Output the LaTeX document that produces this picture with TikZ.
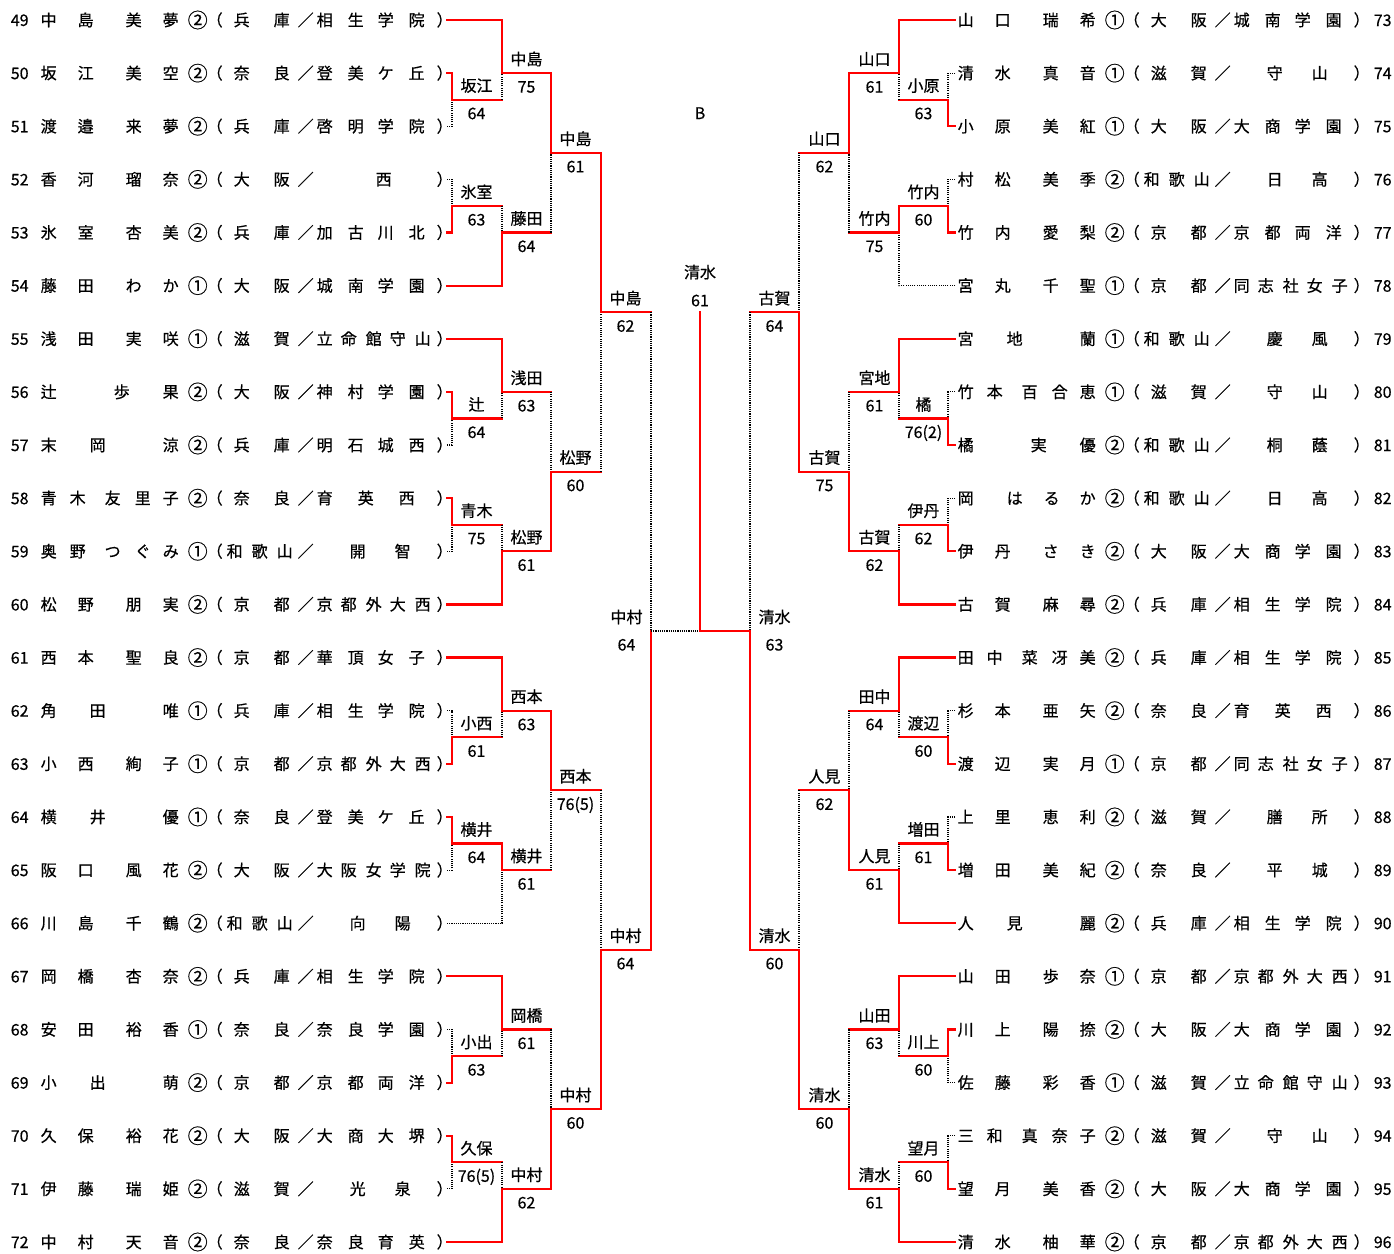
\documentclass[tikz,border=0pt]{standalone}
\usepackage{fontspec}
\setmainfont{Noto Sans CJK JP}[FakeBold=0.5]
\newcommand\putc[2]{\rlap{\hspace*{#1pt}\makebox[0pt]{#2}}}
\newcommand\circd[1]{\raisebox{-1.6pt}{\fontsize{20}{20}\selectfont #1}}
% name patterns
\newcommand\nmA[4]{\putc{48}{#1}\putc{85}{#2}\putc{133}{#3}\putc{170}{#4}}
\newcommand\nmB[5]{\putc{48}{#1}\putc{77}{#2}\putc{112}{#3}\putc{142}{#4}\putc{170}{#5}}
\newcommand\nmC[3]{\putc{48}{#1}\putc{97}{#2}\putc{170}{#3}}
\newcommand\nmD[3]{\putc{48}{#1}\putc{121}{#2}\putc{170}{#3}}
\newcommand\nmE[4]{\putc{48}{#1}\putc{97}{#2}\putc{134}{#3}\putc{170}{#4}}
% prefecture patterns
\newcommand\pfA[2]{\putc{241}{#1}\putc{281}{#2}}
\newcommand\pfB[3]{\putc{234}{#1}\putc{259}{#2}\putc{284}{#3}}
% school patterns
\newcommand\scA[4]{\putc{324}{#1}\putc{355}{#2}\putc{385}{#3}\putc{416}{#4}}
\newcommand\scB[5]{\putc{324}{#1}\putc{348}{#2}\putc{373}{#3}\putc{397}{#4}\putc{422}{#5}}
\newcommand\scC[3]{\putc{324}{#1}\putc{365}{#2}\putc{406}{#3}}
\newcommand\scD[2]{\putc{357}{#1}\putc{402}{#2}}
\newcommand\scE[1]{\putc{383}{#1}}
\newcommand\rowy[1]{20+53.13*(#1)}
\tikzset{
  row/.style={anchor=base west, inner sep=0pt, font=\fontsize{16}{19}\selectfont},
  lbl/.style={anchor=base, inner sep=0pt, font=\fontsize{16}{19}\selectfont},
  win/.style={draw=red, line width=2.2pt, line cap=rect},
  lose/.style={draw=black, line width=1.1pt, dash pattern=on 1.1pt off 1.1pt},
}
\newcommand\Lrow[6]{\node[row] (P#2) at (0,{\rowy{#1}+6}) {\putc{19}{#2}#3\putc{197}{\circd{#4}}\putc{214}{（}#5\putc{305}{／}#6\putc{444}{）}};
  \coordinate (a#2) at (447,{\rowy{#1}});}
\newcommand\Rrow[6]{\node[row] (P#2) at (917,{\rowy{#1}+6}) {#3\putc{197}{\circd{#4}}\putc{214}{（}#5\putc{305}{／}#6\putc{444}{）}\putc{465}{#2}};
  \coordinate (a#2) at (955,{\rowy{#1}});}
% winner #1, loser #2 (player), match #3
\newcommand\boutP[3]{\draw[lose] (#2) -| (#3); \draw[win] (#1) -| (#3);}
% winner #1, loser #2 (match), match #3
\newcommand\boutM[3]{\draw[win] (#2) -- (#2 -| #3); \draw[lose] (#2 -| #3) -- (#3); \draw[win] (#1) -| (#3);}
\newcommand\lab[4]{\node[lbl] (w#1) at ([xshift=#2pt,yshift=8pt]#1) {#3};
  \node[lbl] (s#1) at ([xshift=#2pt,yshift=-19.5pt]#1) {#4};}
\begin{document}
\begin{tikzpicture}[x=1pt,y=-1pt]
\fill[white] (0,0) rectangle (1394,1253);
\useasboundingbox (0,0) rectangle (1394,1253);
% ---- left entries
\Lrow{0}{49}{\nmA{中}{島}{美}{夢}}{②}{\pfA{兵}{庫}}{\scA{相}{生}{学}{院}}
\Lrow{1}{50}{\nmA{坂}{江}{美}{空}}{②}{\pfA{奈}{良}}{\scA{登}{美}{ケ}{丘}}
\Lrow{2}{51}{\nmA{渡}{邉}{来}{夢}}{②}{\pfA{兵}{庫}}{\scA{啓}{明}{学}{院}}
\Lrow{3}{52}{\nmA{香}{河}{瑠}{奈}}{②}{\pfA{大}{阪}}{\scE{西}}
\Lrow{4}{53}{\nmA{氷}{室}{杏}{美}}{②}{\pfA{兵}{庫}}{\scA{加}{古}{川}{北}}
\Lrow{5}{54}{\nmA{藤}{田}{わ}{か}}{①}{\pfA{大}{阪}}{\scA{城}{南}{学}{園}}
\Lrow{6}{55}{\nmA{浅}{田}{実}{咲}}{①}{\pfA{滋}{賀}}{\scB{立}{命}{館}{守}{山}}
\Lrow{7}{56}{\nmD{辻}{歩}{果}}{②}{\pfA{大}{阪}}{\scA{神}{村}{学}{園}}
\Lrow{8}{57}{\nmC{末}{岡}{涼}}{②}{\pfA{兵}{庫}}{\scA{明}{石}{城}{西}}
\Lrow{9}{58}{\nmB{青}{木}{友}{里}{子}}{②}{\pfA{奈}{良}}{\scC{育}{英}{西}}
\Lrow{10}{59}{\nmB{奥}{野}{つ}{ぐ}{み}}{①}{\pfB{和}{歌}{山}}{\scD{開}{智}}
\Lrow{11}{60}{\nmA{松}{野}{朋}{実}}{②}{\pfA{京}{都}}{\scB{京}{都}{外}{大}{西}}
\Lrow{12}{61}{\nmA{西}{本}{聖}{良}}{②}{\pfA{京}{都}}{\scA{華}{頂}{女}{子}}
\Lrow{13}{62}{\nmC{角}{田}{唯}}{①}{\pfA{兵}{庫}}{\scA{相}{生}{学}{院}}
\Lrow{14}{63}{\nmA{小}{西}{絢}{子}}{①}{\pfA{京}{都}}{\scB{京}{都}{外}{大}{西}}
\Lrow{15}{64}{\nmC{横}{井}{優}}{①}{\pfA{奈}{良}}{\scA{登}{美}{ケ}{丘}}
\Lrow{16}{65}{\nmA{阪}{口}{風}{花}}{②}{\pfA{大}{阪}}{\scB{大}{阪}{女}{学}{院}}
\Lrow{17}{66}{\nmA{川}{島}{千}{鶴}}{②}{\pfB{和}{歌}{山}}{\scD{向}{陽}}
\Lrow{18}{67}{\nmA{岡}{橋}{杏}{奈}}{②}{\pfA{兵}{庫}}{\scA{相}{生}{学}{院}}
\Lrow{19}{68}{\nmA{安}{田}{裕}{香}}{①}{\pfA{奈}{良}}{\scA{奈}{良}{学}{園}}
\Lrow{20}{69}{\nmC{小}{出}{萌}}{②}{\pfA{京}{都}}{\scA{京}{都}{両}{洋}}
\Lrow{21}{70}{\nmA{久}{保}{裕}{花}}{②}{\pfA{大}{阪}}{\scA{大}{商}{大}{堺}}
\Lrow{22}{71}{\nmA{伊}{藤}{瑞}{姫}}{②}{\pfA{滋}{賀}}{\scD{光}{泉}}
\Lrow{23}{72}{\nmA{中}{村}{天}{音}}{②}{\pfA{奈}{良}}{\scA{奈}{良}{育}{英}}
% ---- right entries
\Rrow{0}{73}{\nmA{山}{口}{瑞}{希}}{①}{\pfA{大}{阪}}{\scA{城}{南}{学}{園}}
\Rrow{1}{74}{\nmA{清}{水}{真}{音}}{①}{\pfA{滋}{賀}}{\scD{守}{山}}
\Rrow{2}{75}{\nmA{小}{原}{美}{紅}}{①}{\pfA{大}{阪}}{\scA{大}{商}{学}{園}}
\Rrow{3}{76}{\nmA{村}{松}{美}{季}}{②}{\pfB{和}{歌}{山}}{\scD{日}{高}}
\Rrow{4}{77}{\nmA{竹}{内}{愛}{梨}}{②}{\pfA{京}{都}}{\scA{京}{都}{両}{洋}}
\Rrow{5}{78}{\nmA{宮}{丸}{千}{聖}}{①}{\pfA{京}{都}}{\scB{同}{志}{社}{女}{子}}
\Rrow{6}{79}{\nmC{宮}{地}{蘭}}{①}{\pfB{和}{歌}{山}}{\scD{慶}{風}}
\Rrow{7}{80}{\nmB{竹}{本}{百}{合}{恵}}{①}{\pfA{滋}{賀}}{\scD{守}{山}}
\Rrow{8}{81}{\nmD{橘}{実}{優}}{②}{\pfB{和}{歌}{山}}{\scD{桐}{蔭}}
\Rrow{9}{82}{\nmE{岡}{は}{る}{か}}{②}{\pfB{和}{歌}{山}}{\scD{日}{高}}
\Rrow{10}{83}{\nmA{伊}{丹}{さ}{き}}{②}{\pfA{大}{阪}}{\scA{大}{商}{学}{園}}
\Rrow{11}{84}{\nmA{古}{賀}{麻}{尋}}{②}{\pfA{兵}{庫}}{\scA{相}{生}{学}{院}}
\Rrow{12}{85}{\nmB{田}{中}{菜}{冴}{美}}{②}{\pfA{兵}{庫}}{\scA{相}{生}{学}{院}}
\Rrow{13}{86}{\nmA{杉}{本}{亜}{矢}}{②}{\pfA{奈}{良}}{\scC{育}{英}{西}}
\Rrow{14}{87}{\nmA{渡}{辺}{実}{月}}{①}{\pfA{京}{都}}{\scB{同}{志}{社}{女}{子}}
\Rrow{15}{88}{\nmA{上}{里}{恵}{利}}{②}{\pfA{滋}{賀}}{\scD{膳}{所}}
\Rrow{16}{89}{\nmA{増}{田}{美}{紀}}{②}{\pfA{奈}{良}}{\scD{平}{城}}
\Rrow{17}{90}{\nmC{人}{見}{麗}}{②}{\pfA{兵}{庫}}{\scA{相}{生}{学}{院}}
\Rrow{18}{91}{\nmA{山}{田}{歩}{奈}}{①}{\pfA{京}{都}}{\scB{京}{都}{外}{大}{西}}
\Rrow{19}{92}{\nmA{川}{上}{陽}{捺}}{②}{\pfA{大}{阪}}{\scA{大}{商}{学}{園}}
\Rrow{20}{93}{\nmA{佐}{藤}{彩}{香}}{①}{\pfA{滋}{賀}}{\scB{立}{命}{館}{守}{山}}
\Rrow{21}{94}{\nmB{三}{和}{真}{奈}{子}}{②}{\pfA{滋}{賀}}{\scD{守}{山}}
\Rrow{22}{95}{\nmA{望}{月}{美}{香}}{②}{\pfA{大}{阪}}{\scA{大}{商}{学}{園}}
\Rrow{23}{96}{\nmA{清}{水}{柚}{華}}{②}{\pfA{京}{都}}{\scB{京}{都}{外}{大}{西}}
% ---- match points, left
\coordinate (m50) at (452,{\rowy{1.5}});  \coordinate (m49) at (502,{\rowy{1}});
\coordinate (m53) at (452,{\rowy{3.5}});  \coordinate (m54) at (502,{\rowy{4}});
\coordinate (mA)  at (551,{\rowy{2.5}});
\coordinate (m56) at (452,{\rowy{7.5}});  \coordinate (m55) at (502,{\rowy{7}});
\coordinate (m58) at (452,{\rowy{9.5}});  \coordinate (m60) at (502,{\rowy{10}});
\coordinate (mB)  at (551,{\rowy{8.5}});
\coordinate (mAB) at (601,{\rowy{5.5}});
\coordinate (m63) at (452,{\rowy{13.5}}); \coordinate (m61) at (502,{\rowy{13}});
\coordinate (m64) at (452,{\rowy{15.5}}); \coordinate (m66) at (502,{\rowy{16}});
\coordinate (mC)  at (551,{\rowy{14.5}});
\coordinate (m69) at (452,{\rowy{19.5}}); \coordinate (m67) at (502,{\rowy{19}});
\coordinate (m70) at (452,{\rowy{21.5}}); \coordinate (m72) at (502,{\rowy{22}});
\coordinate (mD)  at (551,{\rowy{20.5}});
\coordinate (mCD) at (601,{\rowy{17.5}});
\coordinate (sfL) at (651,{\rowy{11.5}});
% ---- match points, right
\coordinate (m75) at (948,{\rowy{1.5}});  \coordinate (m73) at (899,{\rowy{1}});
\coordinate (m77) at (948,{\rowy{3.5}});  \coordinate (m78) at (899,{\rowy{4}});
\coordinate (mE)  at (849,{\rowy{2.5}});
\coordinate (m81) at (948,{\rowy{7.5}});  \coordinate (m79) at (899,{\rowy{7}});
\coordinate (m83) at (948,{\rowy{9.5}});  \coordinate (m84) at (899,{\rowy{10}});
\coordinate (mF)  at (849,{\rowy{8.5}});
\coordinate (mEF) at (799,{\rowy{5.5}});
\coordinate (m87) at (948,{\rowy{13.5}}); \coordinate (m85) at (899,{\rowy{13}});
\coordinate (m89) at (948,{\rowy{15.5}}); \coordinate (m90) at (899,{\rowy{16}});
\coordinate (mG)  at (849,{\rowy{14.5}});
\coordinate (m92) at (948,{\rowy{19.5}}); \coordinate (m91) at (899,{\rowy{19}});
\coordinate (m95) at (948,{\rowy{21.5}}); \coordinate (m96) at (899,{\rowy{22}});
\coordinate (mH)  at (849,{\rowy{20.5}});
\coordinate (mGH) at (799,{\rowy{17.5}});
\coordinate (sfR) at (750,{\rowy{11.5}});
\coordinate (fin) at (700,{\rowy{5.5}});
% ---- bouts, left
\boutP{a50}{a51}{m50} \boutM{a49}{m50}{m49}
\boutP{a53}{a52}{m53} \boutM{a54}{m53}{m54}
\boutM{m49}{m54}{mA}
\boutP{a56}{a57}{m56} \boutM{a55}{m56}{m55}
\boutP{a58}{a59}{m58} \boutM{a60}{m58}{m60}
\boutM{m60}{m55}{mB}
\boutM{mA}{mB}{mAB}
\boutP{a63}{a62}{m63} \boutM{a61}{m63}{m61}
\boutP{a64}{a65}{m64} \boutP{m64}{a66}{m66}
\boutM{m61}{m66}{mC}
\boutP{a69}{a68}{m69} \boutM{a67}{m69}{m67}
\boutP{a70}{a71}{m70} \boutM{a72}{m70}{m72}
\boutM{m72}{m67}{mD}
\boutM{mD}{mC}{mCD}
\boutM{mCD}{mAB}{sfL}
% ---- bouts, right
\boutP{a75}{a74}{m75} \boutM{a73}{m75}{m73}
\boutP{a77}{a76}{m77} \boutP{m77}{a78}{m78}
\boutM{m73}{m78}{mE}
\boutP{a81}{a80}{m81} \boutM{a79}{m81}{m79}
\boutP{a83}{a82}{m83} \boutM{a84}{m83}{m84}
\boutM{m84}{m79}{mF}
\boutM{mF}{mE}{mEF}
\boutP{a87}{a86}{m87} \boutM{a85}{m87}{m85}
\boutP{a89}{a88}{m89} \boutM{a90}{m89}{m90}
\boutM{m90}{m85}{mG}
\boutP{a92}{a93}{m92} \boutM{a91}{m92}{m91}
\boutP{a95}{a94}{m95} \boutM{a96}{m95}{m96}
\boutM{m96}{m91}{mH}
\boutM{mH}{mG}{mGH}
\boutM{mGH}{mEF}{sfR}
% ---- final
\boutP{sfR}{sfL}{fin}
% ---- labels, left
\lab{m50}{24.5}{坂江}{64}
\lab{m49}{24.5}{中島}{75}
\lab{m53}{24.5}{氷室}{63}
\lab{m54}{24.5}{藤田}{64}
\lab{mA}{24.5}{中島}{61}
\lab{m56}{24.5}{辻}{64}
\lab{m55}{24.5}{浅田}{63}
\lab{m58}{24.5}{青木}{75}
\lab{m60}{24.5}{松野}{61}
\lab{mB}{24.5}{松野}{60}
\lab{mAB}{24.5}{中島}{62}
\lab{m63}{24.5}{小西}{61}
\lab{m61}{24.5}{西本}{63}
\lab{m64}{24.5}{横井}{64}
\lab{m66}{24.5}{横井}{61}
\lab{mC}{24.5}{西本}{76(5)}
\lab{m69}{24.5}{小出}{63}
\lab{m67}{24.5}{岡橋}{61}
\lab{m70}{24.5}{久保}{76(5)}
\lab{m72}{24.5}{中村}{62}
\lab{mD}{24.5}{中村}{60}
\lab{mCD}{24.5}{中村}{64}
\lab{sfL}{-24.5}{中村}{64}
% ---- labels, right
\lab{m75}{-24.5}{小原}{63}
\lab{m73}{-24.5}{山口}{61}
\lab{m77}{-24.5}{竹内}{60}
\lab{m78}{-24.5}{竹内}{75}
\lab{mE}{-24.5}{山口}{62}
\lab{m81}{-24.5}{橘}{76(2)}
\lab{m79}{-24.5}{宮地}{61}
\lab{m83}{-24.5}{伊丹}{62}
\lab{m84}{-24.5}{古賀}{62}
\lab{mF}{-24.5}{古賀}{75}
\lab{mEF}{-24.5}{古賀}{64}
\lab{m87}{-24.5}{渡辺}{60}
\lab{m85}{-24.5}{田中}{64}
\lab{m89}{-24.5}{増田}{61}
\lab{m90}{-24.5}{人見}{61}
\lab{mG}{-24.5}{人見}{62}
\lab{m92}{-24.5}{川上}{60}
\lab{m91}{-24.5}{山田}{63}
\lab{m95}{-24.5}{望月}{60}
\lab{m96}{-24.5}{清水}{61}
\lab{mH}{-24.5}{清水}{60}
\lab{mGH}{-24.5}{清水}{60}
\lab{sfR}{24.5}{清水}{63}
\node[lbl] (wfin) at ([yshift=34pt]fin) {清水};
\node[lbl] (sfin) at ([yshift=6pt]fin) {61};
\node[lbl] (Bmark) at (700,119) {B};
\end{tikzpicture}
\end{document}
